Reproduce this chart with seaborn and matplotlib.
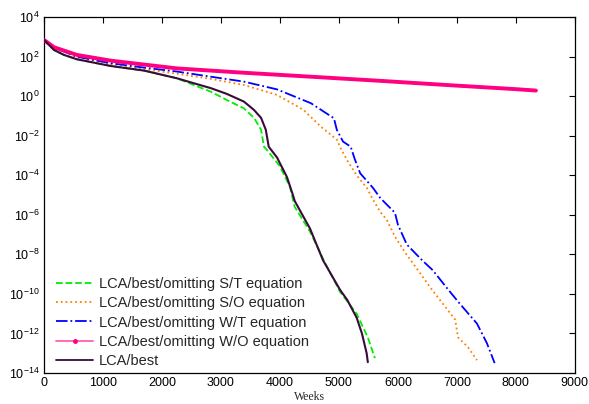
import numpy as np
import pandas as pd
import matplotlib
matplotlib.use("Agg")
import matplotlib.pyplot as plt
from matplotlib.lines import Line2D
import seaborn as sns

# ---- data (weeks, log10 of value) ----
labels = ["LCA/best/omitting S/T equation", "LCA/best/omitting S/O equation",
          "LCA/best/omitting W/T equation", "LCA/best/omitting W/O equation",
          "LCA/best"]

st_x = [0, 170, 340, 560, 1135, 1695, 2254, 2540, 2830, 3100, 3390, 3560, 3680, 3730,
        3800, 4000, 4170, 4250, 4510, 4760, 5020, 5300, 5490, 5610]
st_e = [2.84, 2.33, 2.08, 1.86, 1.52, 1.29, 0.9, 0.56, 0.22, -0.2, -0.62, -1.1, -1.7, -2.56,
        -2.8, -3.55, -4.6, -5.6, -6.85, -8.4, -9.9, -11.0, -12.2, -13.25]

so_x = [0, 170, 560, 1135, 1695, 2254, 2830, 3390, 3950, 4400, 4695, 4965, 5030, 5150,
        5300, 5475, 5580, 5700, 5810, 5950, 6120, 6290, 6580, 6750, 6970, 7020, 7190, 7340]
so_e = [2.84, 2.45, 1.97, 1.62, 1.36, 1.13, 0.87, 0.56, 0.06, -0.7, -1.55, -2.2, -2.64, -3.3,
        -4.0, -4.65, -5.25, -5.85, -6.25, -7.1, -7.9, -8.6, -9.8, -10.45, -11.3, -12.2, -12.7, -13.35]

wt_x = [0, 170, 560, 1135, 1695, 2254, 2830, 3390, 3950, 4525, 4915, 4965, 5070, 5200,
        5270, 5360, 5580, 5700, 5950, 6000, 6150, 6410, 6590, 6830, 7050, 7340, 7510, 7640]
wt_e = [2.84, 2.45, 1.99, 1.66, 1.44, 1.24, 0.98, 0.73, 0.34, -0.36, -1.12, -1.71, -2.3, -2.56,
        -3.2, -3.9, -4.65, -5.15, -5.9, -6.5, -7.5, -8.3, -8.8, -9.7, -10.5, -11.5, -12.5, -13.5]

wo_x = [0, 170, 560, 1135, 2254, 3390, 4525, 5760, 6880, 8000, 8340]
wo_e = [2.84, 2.47, 2.08, 1.79, 1.4, 1.18, 0.98, 0.76, 0.55, 0.35, 0.28]

best_x = [0, 170, 340, 560, 1135, 1695, 2254, 2540, 2830, 3100, 3390, 3560, 3680, 3760,
          3810, 3950, 4120, 4220, 4250, 4510, 4730, 5020, 5140, 5300, 5390, 5470, 5490]
best_e = [2.84, 2.33, 2.08, 1.86, 1.52, 1.29, 0.9, 0.65, 0.4, 0.11, -0.28, -0.7, -1.1, -1.7,
          -2.56, -3.1, -4.1, -5.0, -5.3, -6.7, -8.3, -9.8, -10.3, -11.2, -12.0, -13.0, -13.45]

x_ticks = [0, 1000, 2000, 3000, 4000, 5000, 6000, 7000, 8000, 9000]
y_ticks = [1e-14, 1e-12, 1e-10, 1e-8, 1e-6, 1e-4, 1e-2, 1e0, 1e2, 1e4]

series = [(st_x, st_e), (so_x, so_e), (wt_x, wt_e), (wo_x, wo_e), (best_x, best_e)]
colors = ["#00EE00", "#FF8000", "#0000FF", "#FF0080", "#3A0A3A"]
styles = ["--", ":", "-.", "-", "-"]
widths = [1.3, 1.3, 1.3, 2.8, 1.5]

sns.set_style("white")
plt.rcParams["font.family"] = ["Liberation Sans", "DejaVu Sans"]
plt.rcParams["mathtext.default"] = "regular"

fig = plt.figure(figsize=(5.89, 4.04), dpi=100)
ax = fig.add_axes([0.0747, 0.0767, 0.976 - 0.0747, 0.958 - 0.0767])

handles = []
for i in [0, 1, 2, 3, 4]:
    xs, es = series[i]
    df = pd.DataFrame({"Weeks": xs, "val": 10.0 ** np.array(es)})
    sns.lineplot(data=df, x="Weeks", y="val", ax=ax, color=colors[i],
                 linestyle=styles[i], linewidth=widths[i], sort=False,
                 estimator=None, zorder=3 + (1 if i == 4 else 0))
    if i == 3:
        h = Line2D([0, 0.5, 1], [0, 0, 0], color="#FF60B0", linestyle="-", linewidth=1.3,
                   marker=".", markersize=5, markerfacecolor="#FF0080",
                   markeredgecolor="#FF0080", markevery=[1])
    else:
        h = Line2D([], [], color=colors[i], linestyle=styles[i], linewidth=1.3)
    handles.append(h)

ax.set_yscale("log")
ax.set_xlim(0, 9000)
ax.set_ylim(1e-14, 1e4)
ax.set_xticks(x_ticks)
ax.set_xticklabels([str(t) for t in x_ticks])
ax.set_yticks(y_ticks)
ax.yaxis.set_minor_locator(matplotlib.ticker.NullLocator())
ax.tick_params(axis="both", which="both", direction="in", length=4, width=0.8,
               top=True, right=True, labelsize=9, colors="black", pad=3)
for s in ax.spines.values():
    s.set_color("black")
    s.set_linewidth(0.9)

ax.set_ylabel("")
ax.set_xlabel("Weeks", fontfamily="Liberation Serif", fontsize=8.5, labelpad=1)

ax.legend(handles, labels, loc="lower left", bbox_to_anchor=(0.018, 0.005),
          frameon=False, fontsize=10.5, handlelength=2.5, handletextpad=0.4,
          labelspacing=0.37, borderpad=0.2, borderaxespad=0)

fig.savefig("out.png", dpi=100)
